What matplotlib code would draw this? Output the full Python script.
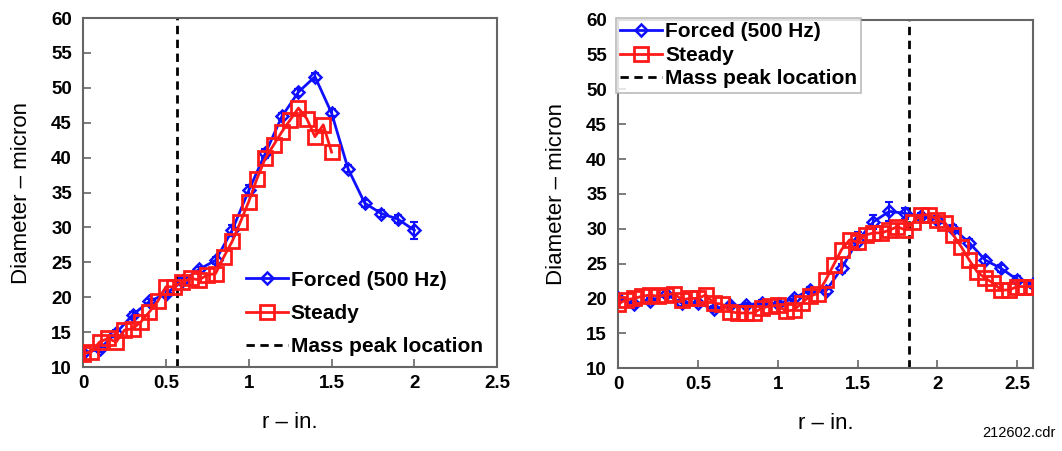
import matplotlib.pyplot as plt

plt.rcParams['font.family'] = ['Liberation Sans', 'DejaVu Sans']

# left panel: forced (500 Hz) and steady diameter profiles
r_forced_a = [0.0, 0.1, 0.2, 0.3, 0.4, 0.5, 0.6, 0.7, 0.8, 0.9, 1.0,
              1.1, 1.2, 1.3, 1.4, 1.5, 1.6, 1.7, 1.8, 1.9, 2.0]
d_forced_a = [12.0, 12.6, 14.9, 17.5, 19.4, 20.5, 22.3, 24.0, 25.3, 29.6, 35.3,
              40.6, 45.9, 49.4, 51.6, 46.4, 38.4, 33.5, 32.0, 31.2, 29.6]
e_forced_a = [0.4, 0.4, 0.4, 0.4, 0.4, 0.4, 0.4, 0.4, 0.5, 0.8, 0.8,
              0.6, 0.5, 0.5, 0.5, 0.5, 0.5, 0.5, 0.5, 0.6, 1.2]

r_steady_a = [0.0, 0.05, 0.1, 0.15, 0.2, 0.25, 0.3, 0.35, 0.4, 0.45, 0.5,
              0.55, 0.6, 0.65, 0.7, 0.75, 0.8, 0.85, 0.9, 0.95, 1.0,
              1.05, 1.1, 1.15, 1.2, 1.25, 1.3, 1.35, 1.4, 1.45, 1.5]
d_steady_a = [11.9, 12.2, 13.6, 14.1, 13.6, 15.3, 15.5, 16.5, 17.9, 19.4, 21.5,
              21.5, 22.2, 22.7, 22.5, 23.2, 23.4, 25.8, 28.0, 30.8, 33.7,
              37.0, 39.9, 41.8, 43.7, 45.4, 47.1, 45.6, 43.0, 44.7, 40.8]
peak_a = 0.57

# right panel
r_forced_b = [0.0, 0.1, 0.2, 0.3, 0.4, 0.5, 0.6, 0.7, 0.8, 0.9, 1.0, 1.1, 1.2, 1.3,
              1.4, 1.5, 1.6, 1.7, 1.8, 1.9, 2.0, 2.1, 2.2, 2.3, 2.4, 2.5, 2.6]
d_forced_b = [20.0, 19.2, 19.6, 20.6, 19.3, 19.3, 18.5, 19.0, 19.0, 19.4, 19.2, 20.0, 21.2, 21.0,
              24.3, 28.3, 31.0, 32.5, 32.2, 31.8, 31.3, 30.0, 28.0, 25.5, 24.3, 22.7, 22.0]
e_forced_b = [0.4, 0.4, 0.4, 0.4, 0.4, 0.4, 0.4, 0.4, 0.4, 0.4, 0.4, 0.4, 0.4, 0.4,
              0.6, 1.3, 1.0, 1.4, 0.8, 0.5, 0.5, 0.5, 0.5, 0.5, 0.5, 0.5, 0.5]

r_steady_b = [0.0, 0.05, 0.1, 0.15, 0.2, 0.25, 0.3, 0.35, 0.4, 0.45, 0.5, 0.55,
              0.6, 0.65, 0.7, 0.75, 0.8, 0.85, 0.9, 0.95, 1.0, 1.05, 1.1, 1.15,
              1.2, 1.25, 1.3, 1.35, 1.4, 1.45, 1.5, 1.55, 1.6, 1.65, 1.7, 1.75,
              1.8, 1.85, 1.9, 1.95, 2.0, 2.05, 2.1, 2.15, 2.2, 2.25, 2.3, 2.35,
              2.4, 2.45, 2.5, 2.55, 2.6]
d_steady_b = [19.2, 19.8, 20.0, 20.3, 20.5, 20.3, 20.5, 20.7, 19.8, 20.0, 20.0, 20.5,
              19.3, 19.2, 18.1, 17.9, 17.9, 17.9, 18.6, 18.9, 19.0, 18.2, 18.3, 19.3,
              20.3, 20.7, 22.6, 24.8, 27.0, 28.4, 28.1, 29.1, 29.4, 29.4, 29.8, 30.3,
              29.8, 31.0, 32.0, 32.0, 31.3, 30.8, 29.1, 27.4, 25.5, 23.8, 22.9, 22.2,
              21.2, 21.2, 21.7, 21.7, 21.7]
peak_b = 1.82

BLUE = '#1010ff'
RED = '#ff1a1a'
FRAME = '#666666'

fig = plt.figure(figsize=(10.62, 4.51), dpi=100)
ax1 = fig.add_axes([0.0782, 0.186, 0.390, 0.774])
ax2 = fig.add_axes([0.582, 0.184, 0.3908, 0.772])


def draw_panel(ax, rf, df, ef, rs, ds, peak, xmax):
    ax.errorbar(rf, df, yerr=ef, fmt='none', ecolor=BLUE, capsize=3,
                elinewidth=1.5, capthick=1.5, zorder=3)
    h1, = ax.plot(rf, df, color=BLUE, lw=2, marker='D', ms=6.5, mfc='none',
                  mec=BLUE, mew=1.8, label='Forced (500 Hz)', zorder=3)
    h2, = ax.plot(rs, ds, color=RED, lw=2, marker='s', ms=9.5, mfc='none',
                  mec=RED, mew=2, label='Steady', zorder=4)
    h3 = ax.axvline(peak, color='black', lw=2, ls=(0, (3, 2)),
                    label='Mass peak location', zorder=2)
    ax.set_xlim(0, xmax)
    ax.set_ylim(10, 60)
    ax.set_xticks([0, 0.5, 1, 1.5, 2, 2.5])
    ax.set_xticklabels(['0', '0.5', '1', '1.5', '2', '2.5'])
    ax.set_yticks(range(10, 61, 5))
    ax.tick_params(direction='in', length=6, width=1.2, color=FRAME,
                   labelsize=13.5)
    ax.tick_params(axis='y', pad=8)
    ax.tick_params(axis='x', pad=6)
    for lab in ax.get_xticklabels() + ax.get_yticklabels():
        lab.set_fontweight('bold')
    for sp in ax.spines.values():
        sp.set_color(FRAME)
        sp.set_linewidth(1.5)
    ax.set_xlabel('r \u2013 in.', fontsize=16, labelpad=14)
    ax.set_ylabel('Diameter \u2013 micron', fontsize=16, labelpad=14)
    return [h1, h2, h3]


hs1 = draw_panel(ax1, r_forced_a, d_forced_a, e_forced_a, r_steady_a, d_steady_a, peak_a, 2.5)
hs2 = draw_panel(ax2, r_forced_b, d_forced_b, e_forced_b, r_steady_b, d_steady_b, peak_b, 2.6)

leg_font = {'weight': 'bold', 'size': 15}
ax1.legend(handles=hs1, loc='lower right', bbox_to_anchor=(1.0, -0.01), frameon=False,
           prop=leg_font, handlelength=2.0, handletextpad=0.15, labelspacing=0.68,
           borderaxespad=0.3)
leg2 = ax2.legend(handles=hs2, loc='upper left', bbox_to_anchor=(-0.03, 1.035), frameon=True,
                  prop=leg_font, handlelength=2.0, handletextpad=0.15,
                  labelspacing=0.22, borderpad=0.2, fancybox=False)
leg2.get_frame().set_edgecolor('#aaaaaa')
leg2.get_frame().set_linewidth(1.2)
leg2.set_zorder(10)

fig.text(0.994, 0.025, '212602.cdr', ha='right', va='bottom', fontsize=10.5)

fig.savefig('out.png', dpi=100)
